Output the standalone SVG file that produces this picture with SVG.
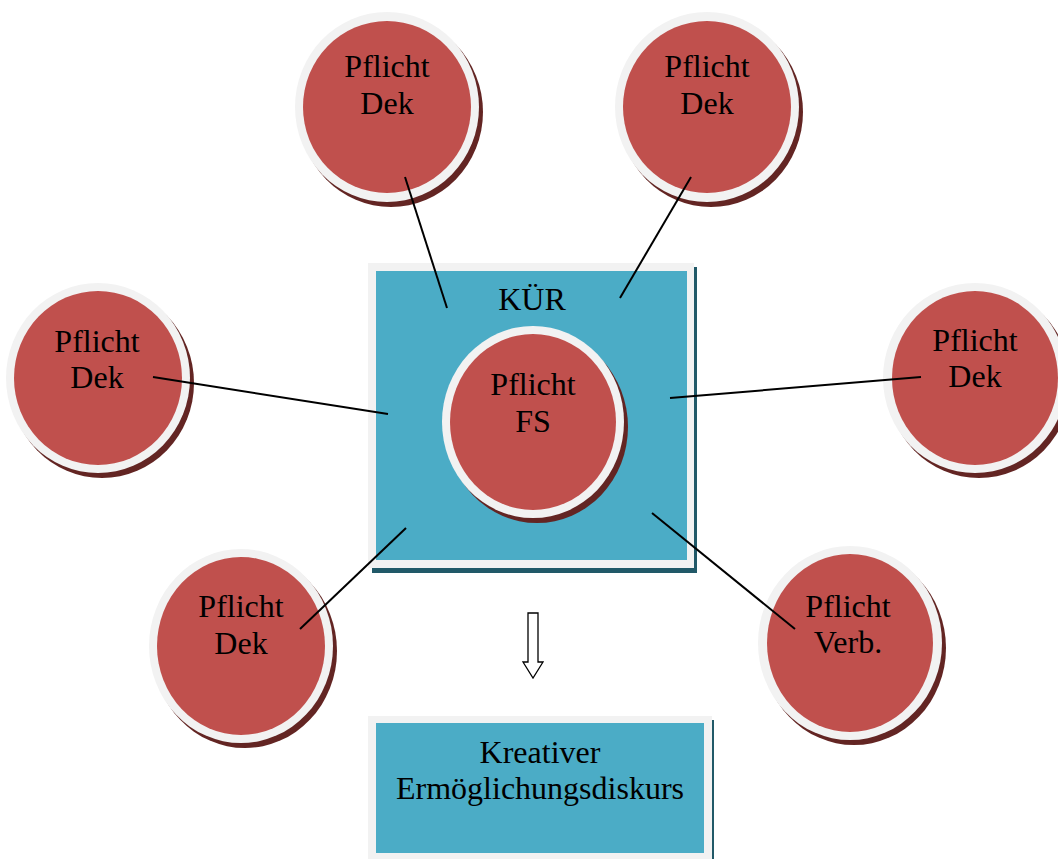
<svg xmlns="http://www.w3.org/2000/svg" width="1058" height="859" viewBox="0 0 1058 859">
<defs>
<style>
.sh{fill:#632523}
.ring{fill:#f2f2f2}
.red{fill:#c0504d}
.tsh{fill:#215968}
.teal{fill:#4bacc6}
.t{font-family:"Liberation Serif","Times New Roman",serif;font-size:32px;fill:#000;text-anchor:middle}
.c{stroke:#000;stroke-width:2;fill:none}
</style>
</defs>
<rect width="1058" height="859" fill="#fff"/>
<g id="kuer">
<rect class="tsh" x="372" y="267" width="325" height="306"/>
<rect class="ring" x="368" y="263" width="326" height="305"/>
<rect class="teal" x="376" y="271" width="311" height="289"/>
<text class="t" x="532" y="310">KÜR</text>
</g>
<g id="fs">
<ellipse class="sh" cx="537" cy="427" rx="91" ry="96"/>
<ellipse class="ring" cx="533" cy="422" rx="91" ry="96"/>
<ellipse class="red" cx="533" cy="422" rx="83" ry="88"/>
<text class="t" x="533" y="395">Pflicht</text>
<text class="t" x="533" y="432">FS</text>
</g>
<g id="dek1">
<ellipse class="sh" cx="391" cy="112" rx="92" ry="95"/>
<ellipse class="ring" cx="387" cy="107" rx="92" ry="95"/>
<ellipse class="red" cx="387" cy="107" rx="84" ry="86"/>
<text class="t" x="387" y="77">Pflicht</text>
<text class="t" x="387" y="114">Dek</text>
</g>
<g id="dek2">
<ellipse class="sh" cx="711" cy="112" rx="92" ry="95"/>
<ellipse class="ring" cx="707" cy="107" rx="92" ry="95"/>
<ellipse class="red" cx="707" cy="107" rx="84" ry="86"/>
<text class="t" x="707" y="77">Pflicht</text>
<text class="t" x="707" y="114">Dek</text>
</g>
<g id="dek3">
<ellipse class="sh" cx="102" cy="383" rx="92" ry="95"/>
<ellipse class="ring" cx="98" cy="378" rx="92" ry="95"/>
<ellipse class="red" cx="98" cy="378" rx="84" ry="87"/>
<text class="t" x="97" y="352">Pflicht</text>
<text class="t" x="97" y="388">Dek</text>
</g>
<g id="dek4">
<ellipse class="sh" cx="979" cy="383" rx="92" ry="95"/>
<ellipse class="ring" cx="975" cy="378" rx="92" ry="95"/>
<ellipse class="red" cx="975" cy="378" rx="83" ry="87"/>
<text class="t" x="975" y="351">Pflicht</text>
<text class="t" x="975" y="387">Dek</text>
</g>
<g id="dek5">
<ellipse class="sh" cx="245" cy="651" rx="92" ry="97"/>
<ellipse class="ring" cx="241" cy="646" rx="92" ry="97"/>
<ellipse class="red" cx="241" cy="646" rx="84" ry="89"/>
<text class="t" x="241" y="617">Pflicht</text>
<text class="t" x="241" y="654">Dek</text>
</g>
<g id="verb">
<ellipse class="sh" cx="854" cy="648" rx="92" ry="97"/>
<ellipse class="ring" cx="850" cy="643" rx="92" ry="97"/>
<ellipse class="red" cx="850" cy="643" rx="83" ry="89"/>
<text class="t" x="848" y="617">Pflicht</text>
<text class="t" x="848" y="653">Verb.</text>
</g>
<g id="arrow">
<path d="M528,613 H538 V662 H543 L533,678 L523,662 H528 Z" fill="#fff" stroke="#000" stroke-width="1.3" stroke-linejoin="miter"/>
</g>
<g id="diskurs">
<rect class="tsh" x="372" y="720" width="342" height="139"/>
<rect class="ring" x="368" y="716" width="344" height="143"/>
<rect class="teal" x="376" y="723" width="328" height="130"/>
<text class="t" x="540" y="763">Kreativer</text>
<text class="t" x="540" y="799">Ermöglichungsdiskurs</text>
</g>
<g id="connectors">
<line class="c" x1="405" y1="177" x2="447" y2="308"/>
<line class="c" x1="691" y1="177" x2="620" y2="298"/>
<line class="c" x1="153" y1="377" x2="388" y2="414"/>
<line class="c" x1="921" y1="377" x2="670" y2="398"/>
<line class="c" x1="406" y1="528" x2="300" y2="629"/>
<line class="c" x1="652" y1="513" x2="795" y2="629"/>
</g>
</svg>
